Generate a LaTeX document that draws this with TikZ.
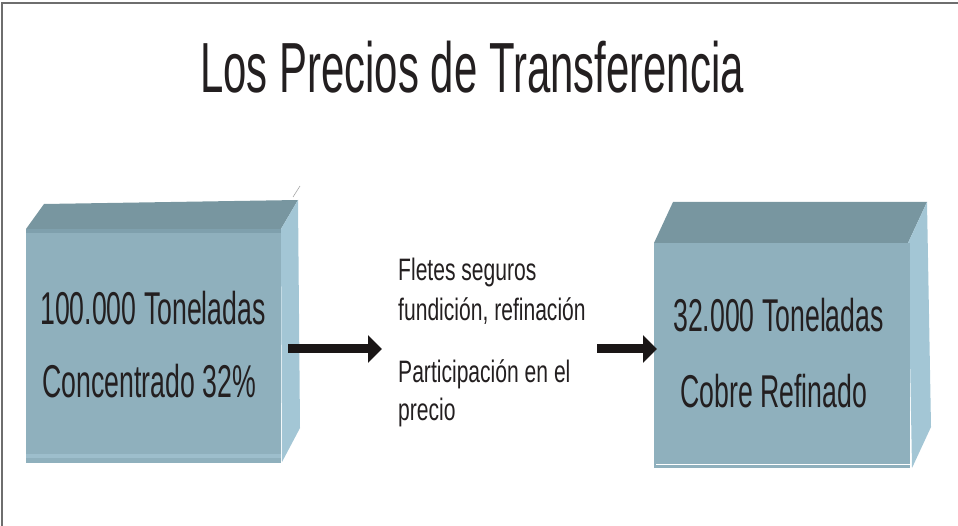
\documentclass[tikz,border=0pt]{standalone}
\usepackage{fontspec}
\setmainfont{Liberation Sans}
\newfontfamily\titlefont[FakeStretch=0.59]{Liberation Sans}
\newfontfamily\boxfont[FakeStretch=0.58]{Liberation Sans}
\newfontfamily\midfont[FakeStretch=0.68]{Liberation Sans}
\usetikzlibrary{arrows.meta}
\definecolor{frontc}{HTML}{8FB0BD}
\definecolor{topc}{HTML}{7896A0}
\definecolor{sidec}{HTML}{A3C6D5}
\definecolor{bandc}{HTML}{7FA0AD}
\definecolor{lowband}{HTML}{9DBECC}
\definecolor{framec}{HTML}{6E6E6E}
\definecolor{arrowc}{HTML}{1A1616}
\definecolor{textc}{HTML}{231F20}
\tikzset{
  front/.style={fill=frontc,draw=none},
  topface/.style={fill=topc,draw=none},
  sideface/.style={fill=sidec,draw=none},
  boxtext/.style={anchor=base west,inner sep=0pt,font=\boxfont\fontsize{46}{50}\selectfont,text=textc},
  midtext/.style={anchor=base west,inner sep=0pt,font=\midfont\fontsize{31}{34}\selectfont,text=textc},
  bigarrow/.style={draw=arrowc,line width=9pt,-{Triangle[length=14pt,width=27pt]}},
}
\begin{document}
\begin{tikzpicture}[x=1pt,y=-1pt]
\useasboundingbox (0,0) rectangle (958,526);
% frame
\draw[framec,line width=1.6pt] (2,526) -- (2,3) -- (958,3);
% title
\node[anchor=base,inner sep=0pt,font=\titlefont\fontsize{71}{80}\selectfont,text=textc] (title) at (472,93) {Los Precios de Transferencia};
% left box
\fill[topface] (26,229) -- (44,204) -- (298,200) -- (281,229) -- cycle;
\fill[sideface] (281,229) -- (298,200) -- (300,428) -- (282,462) -- cycle;
\node[front,minimum width=255pt,minimum height=234pt,inner sep=0pt,anchor=north west] (boxA) at (26,229) {};
\fill[bandc] (26,229) rectangle (281,233);
\fill[lowband] (26,454) rectangle (281,458);
\draw[gray!70,line width=0.6pt] (293,197) -- (300,186);
% right box
\fill[topface] (654,243) -- (673,202) -- (927,202) -- (908,243) -- cycle;
\fill[sideface] (908,243) -- (927,202) -- (931,427) -- (912,468) -- cycle;
\node[front,minimum width=256pt,minimum height=225pt,inner sep=0pt,anchor=north west] (boxB) at (654,243) {};
\draw[white,line width=1pt] (656,464) -- (910,464);
% texts
\node[boxtext] (a1) at (40,325) {100.000 Toneladas};
\node[boxtext] (a2) at (42,397) {Concentrado 32\%};
\node[boxtext] (b1) at (673,332) {32.000 Toneladas};
\node[boxtext] (b2) at (680,407) {Cobre Refinado};
\node[midtext] (m1) at (398,281) {Fletes seguros};
\node[midtext] (m2) at (398,321) {fundición, refinación};
\node[midtext] (m3) at (398,382) {Participación en el};
\node[midtext] (m4) at (398,420) {precio};
% arrows
\coordinate (l1) at (288,349);
\coordinate (l2) at (382,349);
\coordinate (r1) at (597,349);
\coordinate (r2) at (657,349);
\draw[bigarrow] (l1) -- (l2);
\draw[bigarrow] (r1) -- (r2);
\end{tikzpicture}
\end{document}
